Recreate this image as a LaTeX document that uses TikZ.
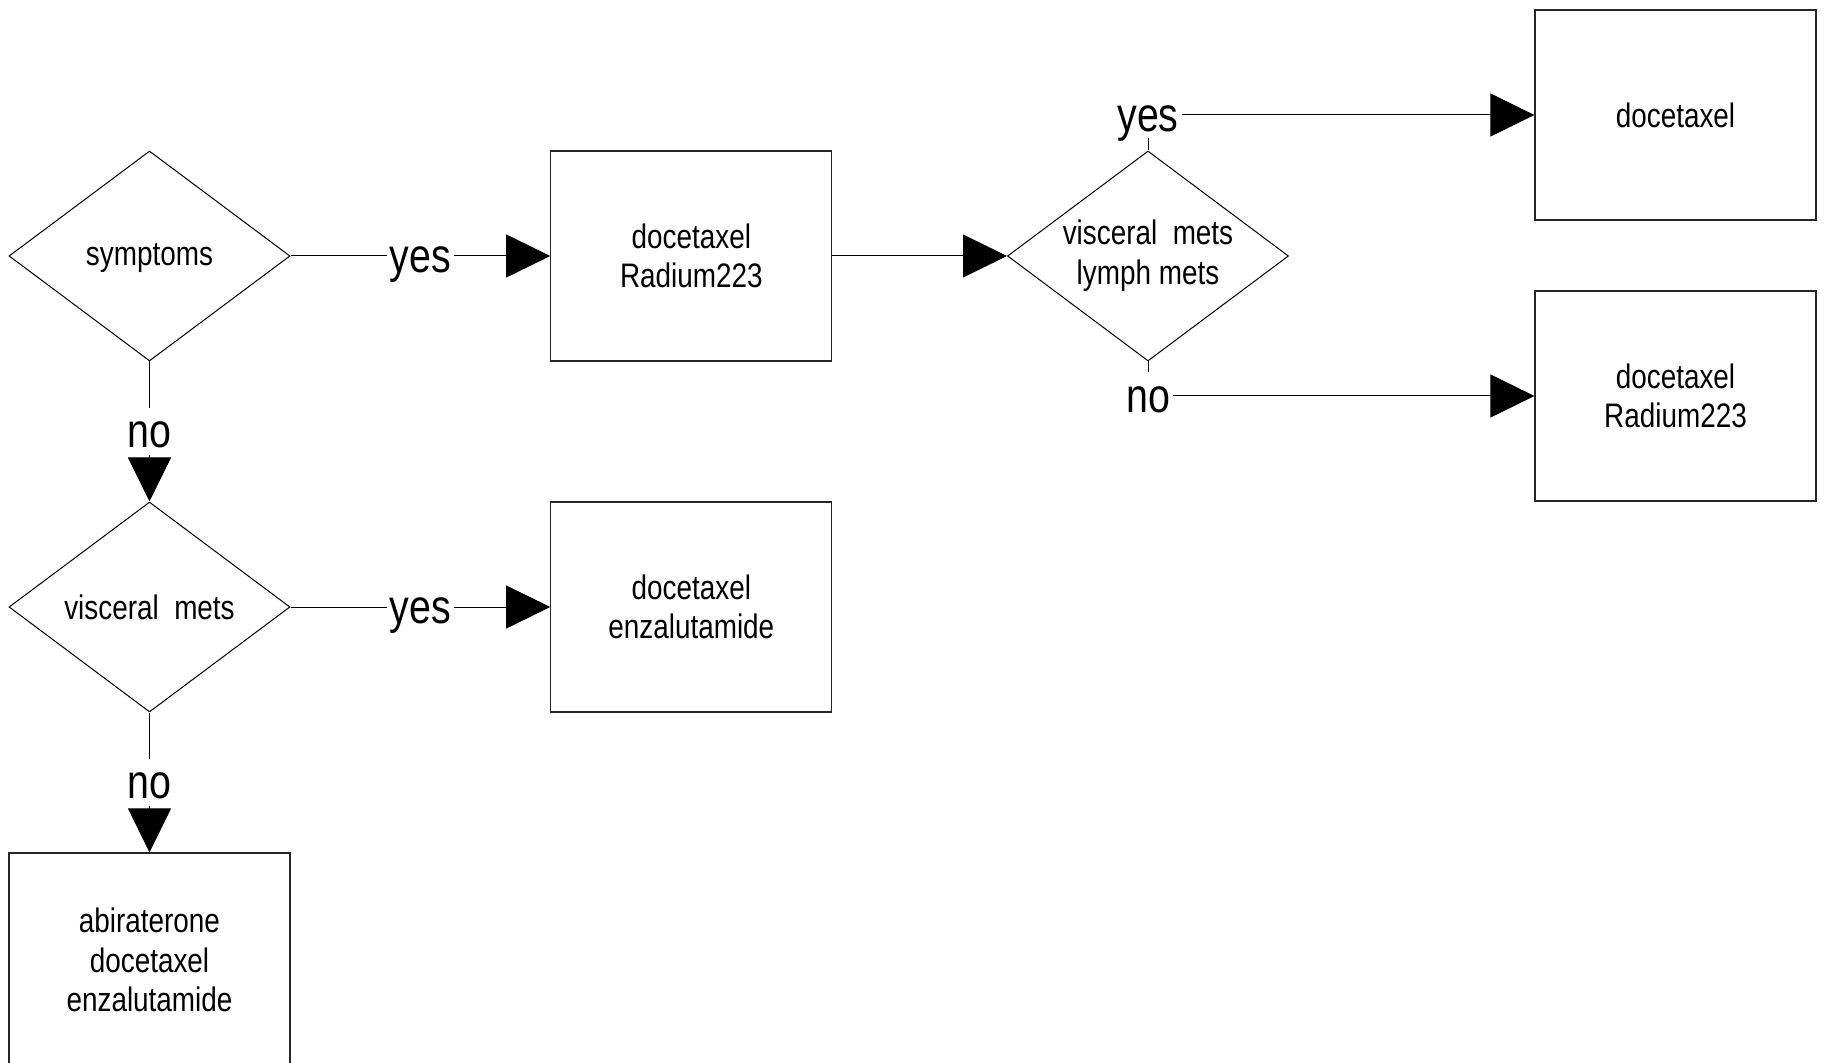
\documentclass[tikz,border=0pt]{standalone}
\usepackage{fontspec}
\setmainfont{Liberation Sans}[FakeStretch=0.82]
\usetikzlibrary{shapes.geometric,arrows.meta}
\begin{document}
\begin{tikzpicture}[x=0.5pt,y=-0.5pt,
  boxnode/.style={draw=black!85,line width=0.6pt,minimum width=140.5pt,minimum height=105pt,inner sep=0pt,align=center,font=\fontsize{17}{19.8}\selectfont},
  decnode/.style={draw,line width=0.5pt,shape=diamond,aspect=1.338,minimum width=140.5pt,minimum height=105pt,inner sep=0pt,align=center,font=\fontsize{17}{19.8}\selectfont},
  conn/.style={line width=0.5pt,-{Triangle[length=22pt,width=21.5pt]}},
  lab/.style={fill=white,inner sep=1.5pt,font=\fontsize{24}{26}\selectfont,text height=18.5pt,text depth=2pt}
]
\useasboundingbox (0,0) rectangle (1825,1063);
\clip (0,0) rectangle (1825,1063);
\node[decnode,text depth=1pt] (d1) at (149.5,256) {symptoms};
\node[boxnode] (b1) at (691.3,256) {docetaxel\\Radium223};
\node[decnode] (d2) at (1148,256) {visceral\ \ mets\\lymph mets};
\node[boxnode] (b2) at (1675.5,115) {docetaxel};
\node[boxnode] (b3) at (1675.5,396) {docetaxel\\Radium223};
\node[decnode] (d3) at (149.5,607) {visceral\ \ mets};
\node[boxnode] (b4) at (691.3,607) {docetaxel\\enzalutamide};
\node[boxnode,minimum height=107pt] (b5) at (149.5,960) {abiraterone\\docetaxel\\enzalutamide};
\draw[conn] (d1.east) -- node[lab]{yes} (b1.west);
\draw[conn] (d1.south) -- node[lab]{no} (d3.north);
\draw[conn] (b1.east) -- (d2.west);
\draw[conn] (d2.north) |- node[lab]{yes} (b2.west);
\draw[conn] (d2.south) |- node[lab]{no} (b3.west);
\draw[conn] (d3.east) -- node[lab]{yes} (b4.west);
\draw[conn] (d3.south) -- node[lab]{no} (b5.north);
\end{tikzpicture}
\end{document}
